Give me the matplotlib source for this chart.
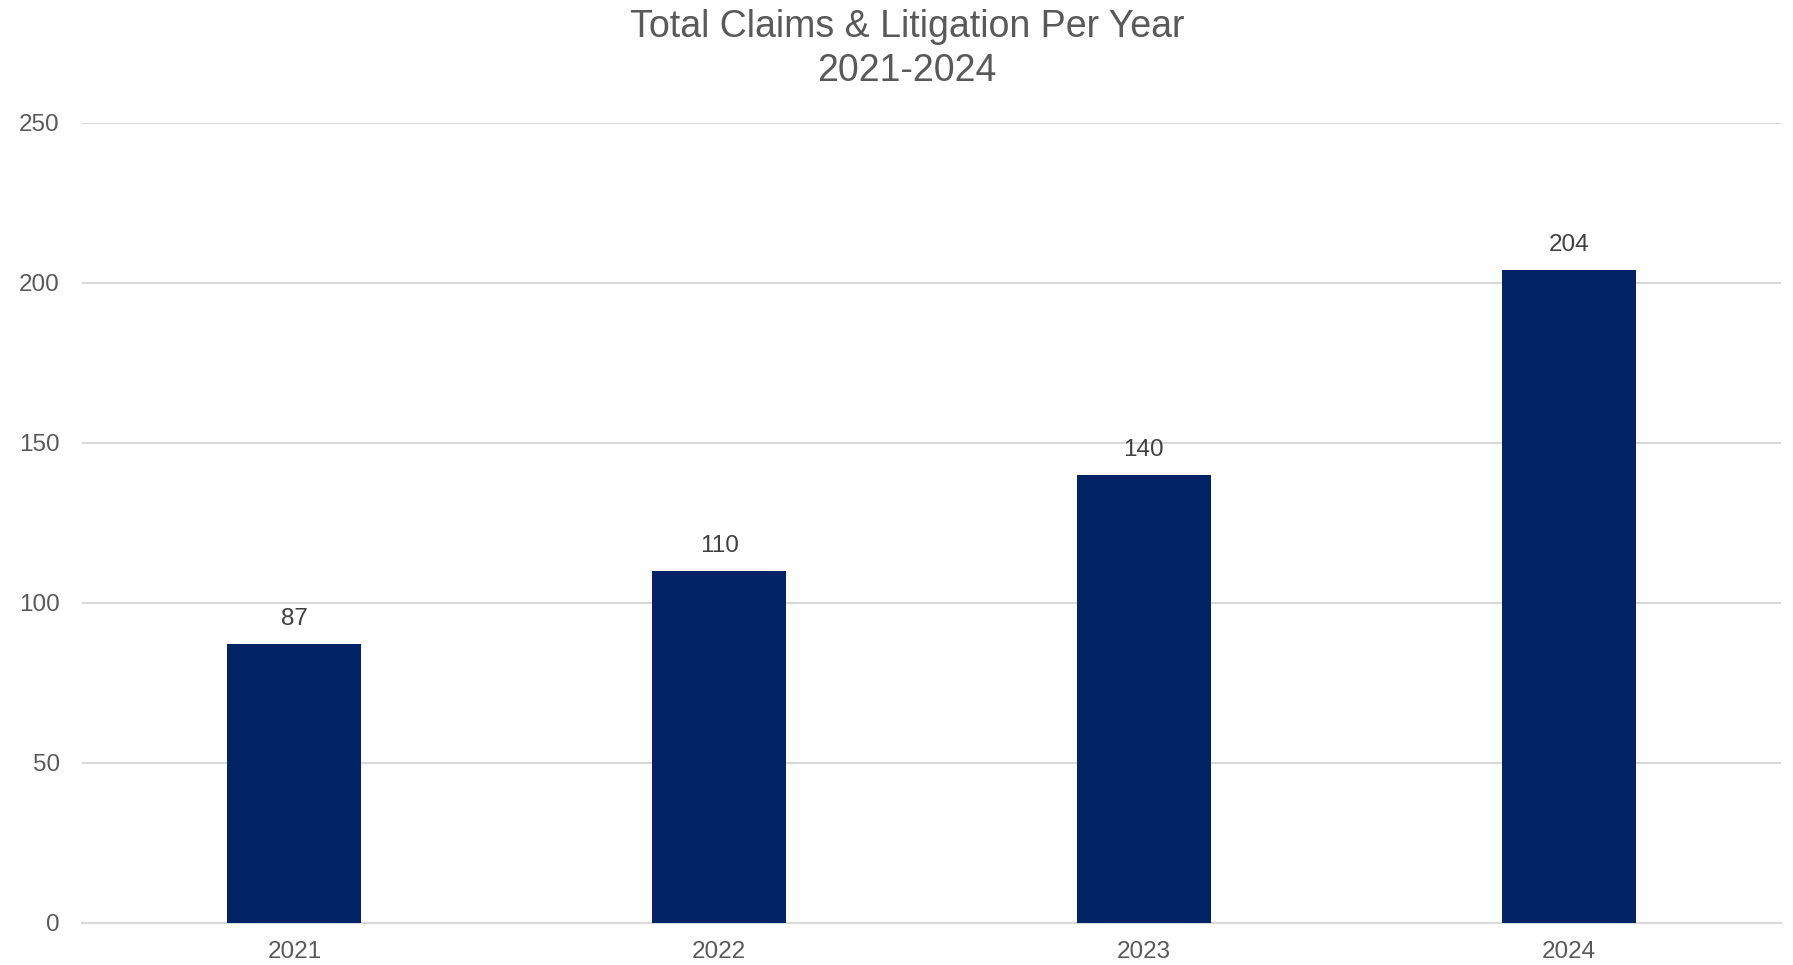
import matplotlib.pyplot as plt
import numpy as np

plt.rcParams['font.family'] = ['Liberation Sans', 'DejaVu Sans']

# data
years = ['2021', '2022', '2023', '2024']
claims = [87, 110, 140, 204]
y_ticks = [0, 50, 100, 150, 200, 250]

bar_color = '#022366'
grid_color = '#d9d9d9'
text_color = '#595959'
label_color = '#404040'

fig = plt.figure(figsize=(17.93, 9.65), dpi=100)
ax = fig.add_axes([0.0457, 0.0438, 0.9476, 0.829])

x = np.arange(len(years))
bars = ax.bar(x, claims, width=0.315, color=bar_color, zorder=3)
ax.bar_label(bars, labels=[str(v) for v in claims], padding=10,
             fontsize=17.5, color=label_color)

ax.set_xlim(-0.5, len(years) - 0.5)
ax.set_ylim(0, 250)
ax.set_yticks(y_ticks)
ax.set_xticks(x)
ax.set_xticklabels(years)

ax.grid(axis='y', color=grid_color, linewidth=1.5, zorder=0)
ax.set_axisbelow(True)
for s in ['top', 'right', 'left']:
    ax.spines[s].set_visible(False)
ax.spines['bottom'].set_color(grid_color)
ax.spines['bottom'].set_linewidth(1.5)

ax.tick_params(axis='y', length=0, pad=16, labelsize=17.5, labelcolor=text_color)
ax.tick_params(axis='x', length=0, pad=13, labelsize=17.5, labelcolor=text_color)

fig.text(0.506, 0.949, 'Total Claims & Litigation Per Year\n2021-2024',
         ha='center', va='center', fontsize=27, color=text_color, linespacing=1.3)

fig.savefig('out.png', dpi=100)
